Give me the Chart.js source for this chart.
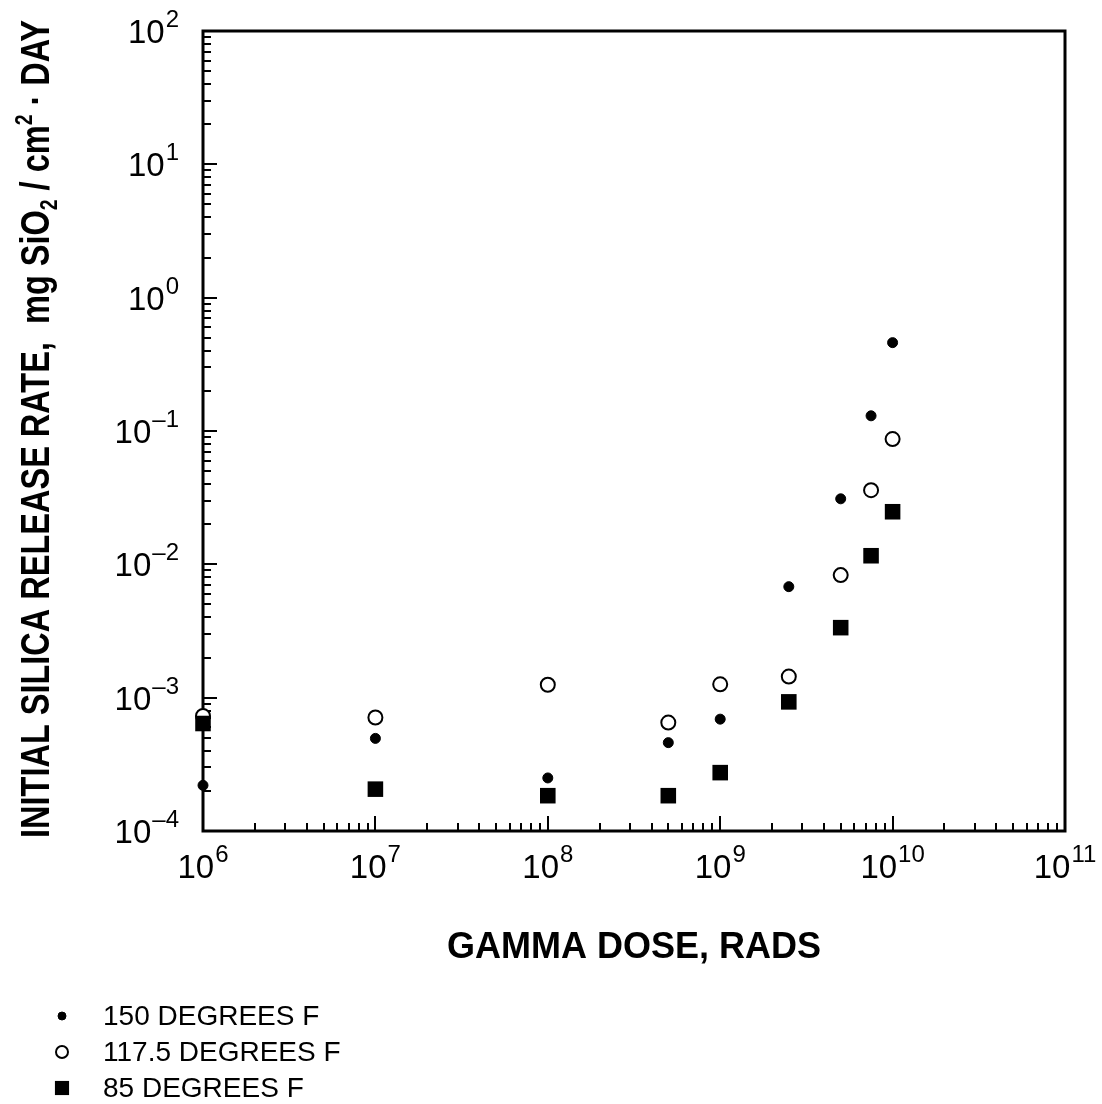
<!DOCTYPE html>
<html>
<head>
<meta charset="utf-8">
<script src="https://cdn.jsdelivr.net/npm/chart.js@4/dist/chart.umd.min.js"></script>
<style>
  html, body { margin: 0; padding: 0; background: #fff; }
  canvas { display: block; }
</style>
</head>
<body>
<canvas id="doseChart" width="1102" height="1104"></canvas>
<script>
// gamma dose (rads) and initial silica release rate (mg SiO2 / cm2 . day)
const doses = [1e6, 1e7, 1e8, 5e8, 1e9, 2.5e9, 5e9, 7.5e9, 1e10];
const rate150 = [2.2e-4, 4.95e-4, 2.5e-4, 4.6e-4, 6.9e-4, 6.8e-3, 3.1e-2, 0.13, 0.46];
const rate117 = [7.3e-4, 7.1e-4, 1.25e-3, 6.5e-4, 1.26e-3, 1.44e-3, 8.3e-3, 3.6e-2, 8.7e-2];
const rate85 = [6.4e-4, 2.06e-4, 1.84e-4, 1.84e-4, 2.74e-4, 9.3e-4, 3.35e-3, 1.16e-2, 2.48e-2];

const seriesLabels = ['150 DEGREES F', '117.5 DEGREES F', '85 DEGREES F'];
const xExponents = [6, 7, 8, 9, 10, 11];
const yExponents = [-4, -3, -2, -1, 0, 1, 2];

const FONT = '"Liberation Sans", Arial, sans-serif';

function points(ys) {
    return doses.map((d, i) => ({ x: d, y: ys[i] }));
}

const pointStyles = [
    { pointStyle: 'circle', radius: 5, backgroundColor: '#000', borderColor: '#000', borderWidth: 1 },
    { pointStyle: 'circle', radius: 7, backgroundColor: '#fff', borderColor: '#000', borderWidth: 2 },
    { pointStyle: 'rect', radius: 11, backgroundColor: '#000', borderColor: '#000', borderWidth: 0 },
];

// "10" with a raised exponent, returns total width
function expText(exp) {
    return String(exp).replace('-', '\u2013');
}

function powerWidth(ctx, exp) {
    ctx.font = '33px ' + FONT;
    const w1 = ctx.measureText('10').width;
    ctx.font = '24px ' + FONT;
    const w2 = ctx.measureText(expText(exp)).width;
    return w1 + w2 + 1;
}

function drawPower(ctx, exp, left, base) {
    ctx.textAlign = 'left';
    ctx.textBaseline = 'alphabetic';
    ctx.font = '33px ' + FONT;
    ctx.fillText('10', left, base);
    const w1 = ctx.measureText('10').width;
    ctx.font = '24px ' + FONT;
    ctx.fillText(expText(exp), left + w1 + 1, base - 16);
}

// draws a run of text pieces, some lowered or raised, squeezed to a given length
function drawRuns(ctx, runs, x, y, length) {
    let total = 0;
    runs.forEach(r => {
        ctx.font = r.font;
        r.w = ctx.measureText(r.t).width;
        total += r.w;
    });
    const k = length ? length / total : 1;
    ctx.save();
    ctx.translate(x - total * k / 2, y);
    ctx.scale(k, 1);
    let cx = 0;
    runs.forEach(r => {
        ctx.font = r.font;
        ctx.fillText(r.t, cx, r.dy || 0);
        cx += r.w;
    });
    ctx.restore();
}

const frame = {
    id: 'frame',
    beforeDatasetsDraw(chart) {
        const { ctx, chartArea: a, scales: { x, y } } = chart;
        ctx.save();
        ctx.strokeStyle = '#000';
        ctx.lineWidth = 2;
        // tick marks on the left and bottom axes, pointing inward
        for (let e = 6; e < 11; e++) {
            for (let m = 1; m <= 9; m++) {
                const px = Math.round(x.getPixelForValue(m * Math.pow(10, e)));
                const len = m === 1 ? 15 : 8;
                ctx.beginPath();
                ctx.moveTo(px, a.bottom);
                ctx.lineTo(px, a.bottom - len);
                ctx.stroke();
            }
        }
        for (let e = -4; e < 2; e++) {
            for (let m = 1; m <= 9; m++) {
                const py = Math.round(y.getPixelForValue(m * Math.pow(10, e)));
                const len = m === 1 ? 14 : 8;
                ctx.beginPath();
                ctx.moveTo(a.left, py);
                ctx.lineTo(a.left + len, py);
                ctx.stroke();
            }
        }
        ctx.lineWidth = 3;
        ctx.strokeRect(a.left, a.top, a.right - a.left, a.bottom - a.top);
        ctx.restore();
    },
    afterDraw(chart) {
        const { ctx, chartArea: a, scales: { x, y } } = chart;
        ctx.save();
        ctx.fillStyle = '#000';

        xExponents.forEach(e => {
            const px = x.getPixelForValue(Math.pow(10, e));
            const w = powerWidth(ctx, e);
            drawPower(ctx, e, px - w / 2, 878);
        });
        yExponents.forEach(e => {
            const py = y.getPixelForValue(Math.pow(10, e));
            const w = powerWidth(ctx, e);
            drawPower(ctx, e, 179 - w, py + 12);
        });

        // axis titles
        ctx.textAlign = 'left';
        ctx.textBaseline = 'alphabetic';
        const big = 'bold 36px ' + FONT;
        drawRuns(ctx, [{ t: 'GAMMA DOSE, RADS', font: big }], (a.left + a.right) / 2, 958);

        const tall = 'bold 40px ' + FONT;
        const small = 'bold 24px ' + FONT;
        ctx.translate(49, 429);
        ctx.rotate(-Math.PI / 2);
        drawRuns(ctx, [
            { t: 'INITIAL SILICA RELEASE RATE,  mg SiO', font: tall },
            { t: '2', font: small, dy: 8 },
            { t: ' / cm', font: tall },
            { t: '2', font: small, dy: -17 },
            { t: ' \u00b7 DAY', font: tall },
        ], 0, 0, 818);
        ctx.setTransform(1, 0, 0, 1, 0, 0);

        // legend, one entry per row
        ctx.font = '28px ' + FONT;
        ctx.textBaseline = 'middle';
        seriesLabels.forEach((label, i) => {
            const cy = 1016 + i * 36;
            const s = pointStyles[i];
            ctx.fillStyle = s.backgroundColor;
            ctx.strokeStyle = s.borderColor;
            ctx.lineWidth = s.borderWidth;
            Chart.helpers.drawPoint(ctx, {
                pointStyle: s.pointStyle,
                radius: i === 2 ? 10 : (i === 1 ? 6 : 4),
                borderWidth: s.borderWidth,
                rotation: 0
            }, 62, cy);
            ctx.fillStyle = '#000';
            ctx.fillText(label, 103, cy + 1);
        });
        ctx.restore();
    }
};

function dataset(i, ys, order) {
    const s = pointStyles[i];
    return {
        label: seriesLabels[i],
        data: points(ys),
        pointStyle: s.pointStyle,
        pointRadius: s.radius,
        pointHoverRadius: s.radius,
        pointBackgroundColor: s.backgroundColor,
        pointBorderColor: s.borderColor,
        pointBorderWidth: s.borderWidth,
        showLine: false,
        clip: false,
        order: order
    };
}

new Chart(document.getElementById('doseChart').getContext('2d'), {
    type: 'scatter',
    data: {
        datasets: [
            dataset(0, rate150, 2),
            dataset(1, rate117, 1),
            dataset(2, rate85, 0)
        ]
    },
    options: {
        responsive: false,
        animation: false,
        layout: { padding: { left: 203, right: 37, top: 31, bottom: 273 } },
        plugins: { legend: { display: false }, tooltip: { enabled: false } },
        scales: {
            x: { type: 'logarithmic', min: 1e6, max: 1e11, display: false },
            y: { type: 'logarithmic', min: 1e-4, max: 1e2, display: false }
        }
    },
    plugins: [frame]
});
</script>
</body>
</html>
